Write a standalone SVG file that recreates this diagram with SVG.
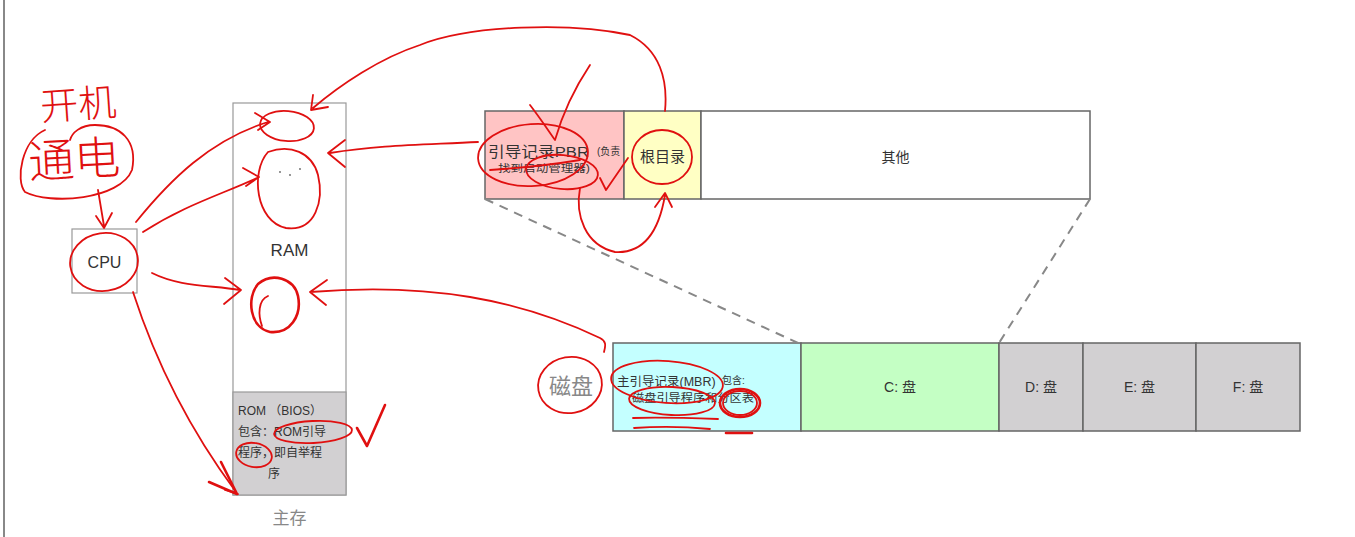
<svg xmlns="http://www.w3.org/2000/svg" width="1355" height="537" viewBox="0 0 1355 537">
<defs>
<style>
.box{stroke:#999;stroke-width:1.2}
.bar{stroke:#666;stroke-width:1.5}
.t{font-family:"Liberation Sans","Noto Sans CJK SC",sans-serif;fill:#333}
.s{font-size:10px}
.m{font-size:12px}
.l{font-size:15px}
.red{fill:none;stroke:#e01010;stroke-width:1.8;stroke-linecap:round;stroke-linejoin:round}
.redb{fill:none;stroke:#e01010;stroke-width:2.6;stroke-linecap:round;stroke-linejoin:round}
.dash{stroke:#888;stroke-width:2;stroke-dasharray:9 7;fill:none}
</style>
</defs>
<rect width="1355" height="537" fill="#fff"/>
<line x1="4" y1="0" x2="4" y2="537" stroke="#888" stroke-width="2"/>

<g id="cpu">
<rect class="box" x="72" y="229" width="65" height="64" fill="#fff"/>
<text class="t" x="104.5" y="268" font-size="16" text-anchor="middle">CPU</text>
</g>

<g id="main-memory">
<rect class="box" x="233" y="103" width="113" height="392" fill="#fff"/>
<rect class="box" x="233" y="392" width="113" height="103" fill="#d2d0d2"/>
<text class="t" x="289.5" y="256" font-size="17" text-anchor="middle">RAM</text>
<text class="t m" x="238" y="415">ROM （BIOS）</text>
<text class="t m" x="238" y="436">包含：ROM引导</text>
<text class="t m" x="238" y="457">程序，即自举程</text>
<text class="t m" x="268" y="478">序</text>
<text class="t" x="289.5" y="524" font-size="17" text-anchor="middle" style="fill:#888">主存</text>
</g>

<g id="partition">
<rect class="bar" x="485" y="111" width="139" height="88" fill="#ffc4c4"/>
<rect class="bar" x="624" y="111" width="77" height="88" fill="#ffffc4"/>
<rect class="bar" x="701" y="111" width="389" height="88" fill="#fff"/>
<text class="t l" x="488" y="157" textLength="101" lengthAdjust="spacingAndGlyphs">引导记录PBR</text>
<text class="t s" x="597" y="155">(负责</text>
<text class="t s" x="498" y="172" textLength="92" lengthAdjust="spacingAndGlyphs">找到启动管理器)</text>
<text class="t l" x="662.5" y="162" text-anchor="middle">根目录</text>
<text class="t" x="895.5" y="162" font-size="14" text-anchor="middle">其他</text>
</g>

<g id="disk">
<rect class="bar" x="613" y="343" width="188" height="88" fill="#c4ffff"/>
<rect class="bar" x="801" y="343" width="198" height="88" fill="#c4ffc4"/>
<rect class="bar" x="999" y="343" width="84" height="88" fill="#d2d0d2"/>
<rect class="bar" x="1083" y="343" width="113" height="88" fill="#d2d0d2"/>
<rect class="bar" x="1196" y="343" width="104" height="88" fill="#d2d0d2"/>
<text class="t" x="617" y="386" font-size="12.5">主引导记录(MBR)</text>
<text class="t s" x="722" y="384">包含:</text>
<text class="t" x="632" y="402" font-size="11" textLength="122" lengthAdjust="spacingAndGlyphs">磁盘引导程序和分区表</text>
<text class="t" x="900" y="392" font-size="14" text-anchor="middle">C: 盘</text>
<text class="t" x="1041" y="392" font-size="14" text-anchor="middle">D: 盘</text>
<text class="t" x="1139.5" y="392" font-size="14" text-anchor="middle">E: 盘</text>
<text class="t" x="1248" y="392" font-size="14" text-anchor="middle">F: 盘</text>
<text class="t" x="571" y="394" font-size="22" text-anchor="middle" style="fill:#888">磁盘</text>
</g>

<g id="connectors">
<path class="dash" d="M485 199 L798 343"/>
<path class="dash" d="M1090 199 L999 343"/>
</g>

<g id="annotations">
<text x="40" y="118" font-size="38" fill="#e01010" font-family="Noto Sans CJK SC,sans-serif" font-weight="300" transform="rotate(-4 78 100)">开机</text>
<text x="28" y="176" font-size="46" fill="#e01010" font-family="Noto Sans CJK SC,sans-serif" font-weight="300" transform="rotate(-3 75 155)">通电</text>
<path class="red" d="M45 130 C22 140 15 180 25 192 C50 205 120 200 132 170 C138 140 120 125 95 125 C80 125 72 133 70 140"/>
<path class="red" d="M98 190 L104 226 M96 216 L104 228 L112 213"/>
<ellipse class="red" cx="104" cy="262" rx="34" ry="29" transform="rotate(-8 104 262)"/>

<path class="red" d="M136 222 C170 180 210 140 268 122 M255 113 L270 122 L258 130"/>
<path class="red" d="M143 232 C185 205 220 195 257 178 M243 168 L259 177 L246 186"/>
<path class="red" d="M152 273 C180 287 210 285 240 290 M225 278 L241 290 L224 304"/>
<path class="red" d="M133 292 C155 360 190 430 236 492"/>
<path class="redb" d="M209 482 L237 494 L221 462"/>
<path class="red" d="M225 490 L238 494"/>

<ellipse class="red" cx="287" cy="126" rx="27" ry="15" transform="rotate(5 287 126)"/>
<path class="red" d="M268 152 C250 172 256 222 286 228 C316 232 324 200 318 175 C312 152 290 144 268 152"/>
<circle cx="280" cy="172" r="0.9" fill="#666"/><circle cx="290" cy="175" r="0.9" fill="#666"/><circle cx="300" cy="169" r="0.9" fill="#666"/>
<path class="redb" d="M258 284 C246 298 250 328 270 332 C290 334 302 316 298 296 C294 278 272 272 258 284"/>
<path class="red" d="M268 296 C258 300 258 315 262 326"/>

<path class="red" d="M478 142 C420 145 380 145 330 153 M345 140 L328 153 L345 167"/>
<path class="red" d="M665 111 C668 80 660 50 630 35 C570 22 470 25 420 45 C380 58 340 85 313 108 M313 95 L311 110 L328 107"/>
<path class="red" d="M590 65 C580 80 565 105 555 140 C548 130 540 118 530 105"/>
<ellipse class="red" cx="533" cy="155" rx="55" ry="31" transform="rotate(-4 533 155)"/>
<ellipse class="red" cx="562" cy="172" rx="36" ry="17" transform="rotate(5 562 172)"/>
<path class="red" d="M490 170 C520 168 550 165 580 160"/>
<path class="red" d="M600 178 L606 190 L628 158"/>
<ellipse class="red" cx="662" cy="157" rx="30" ry="27"/>
<path class="red" d="M580 188 C575 215 585 245 615 252 C648 254 660 225 665 195 M655 207 L665 193 L672 207"/>

<path class="red" d="M604 352 C606 345 606 341 600 338 C520 300 430 282 310 292 M327 280 L310 292 L326 305"/>
<ellipse class="red" cx="570" cy="385" rx="32" ry="28" transform="rotate(-10 570 385)"/>
<ellipse class="red" cx="667" cy="382" rx="56" ry="21" transform="rotate(4 667 382)"/>
<ellipse class="red" cx="672" cy="401" rx="43" ry="14" transform="rotate(3 672 401)"/>
<ellipse class="redb" cx="740" cy="403" rx="20" ry="14"/>
<ellipse class="red" cx="740" cy="403" rx="17" ry="12"/>
<path class="red" d="M633 418 C660 417 690 418 718 419"/>
<path class="red" d="M634 428 C660 426 690 427 710 429"/>
<path class="redb" d="M726 433 L752 433"/>

<ellipse class="red" cx="313" cy="432" rx="39" ry="11" transform="rotate(-3 313 432)"/>
<ellipse class="red" cx="254" cy="455" rx="18" ry="12" transform="rotate(10 254 455)"/>
<path class="redb" d="M357 428 L367 446 L385 405"/>
</g>
</svg>
